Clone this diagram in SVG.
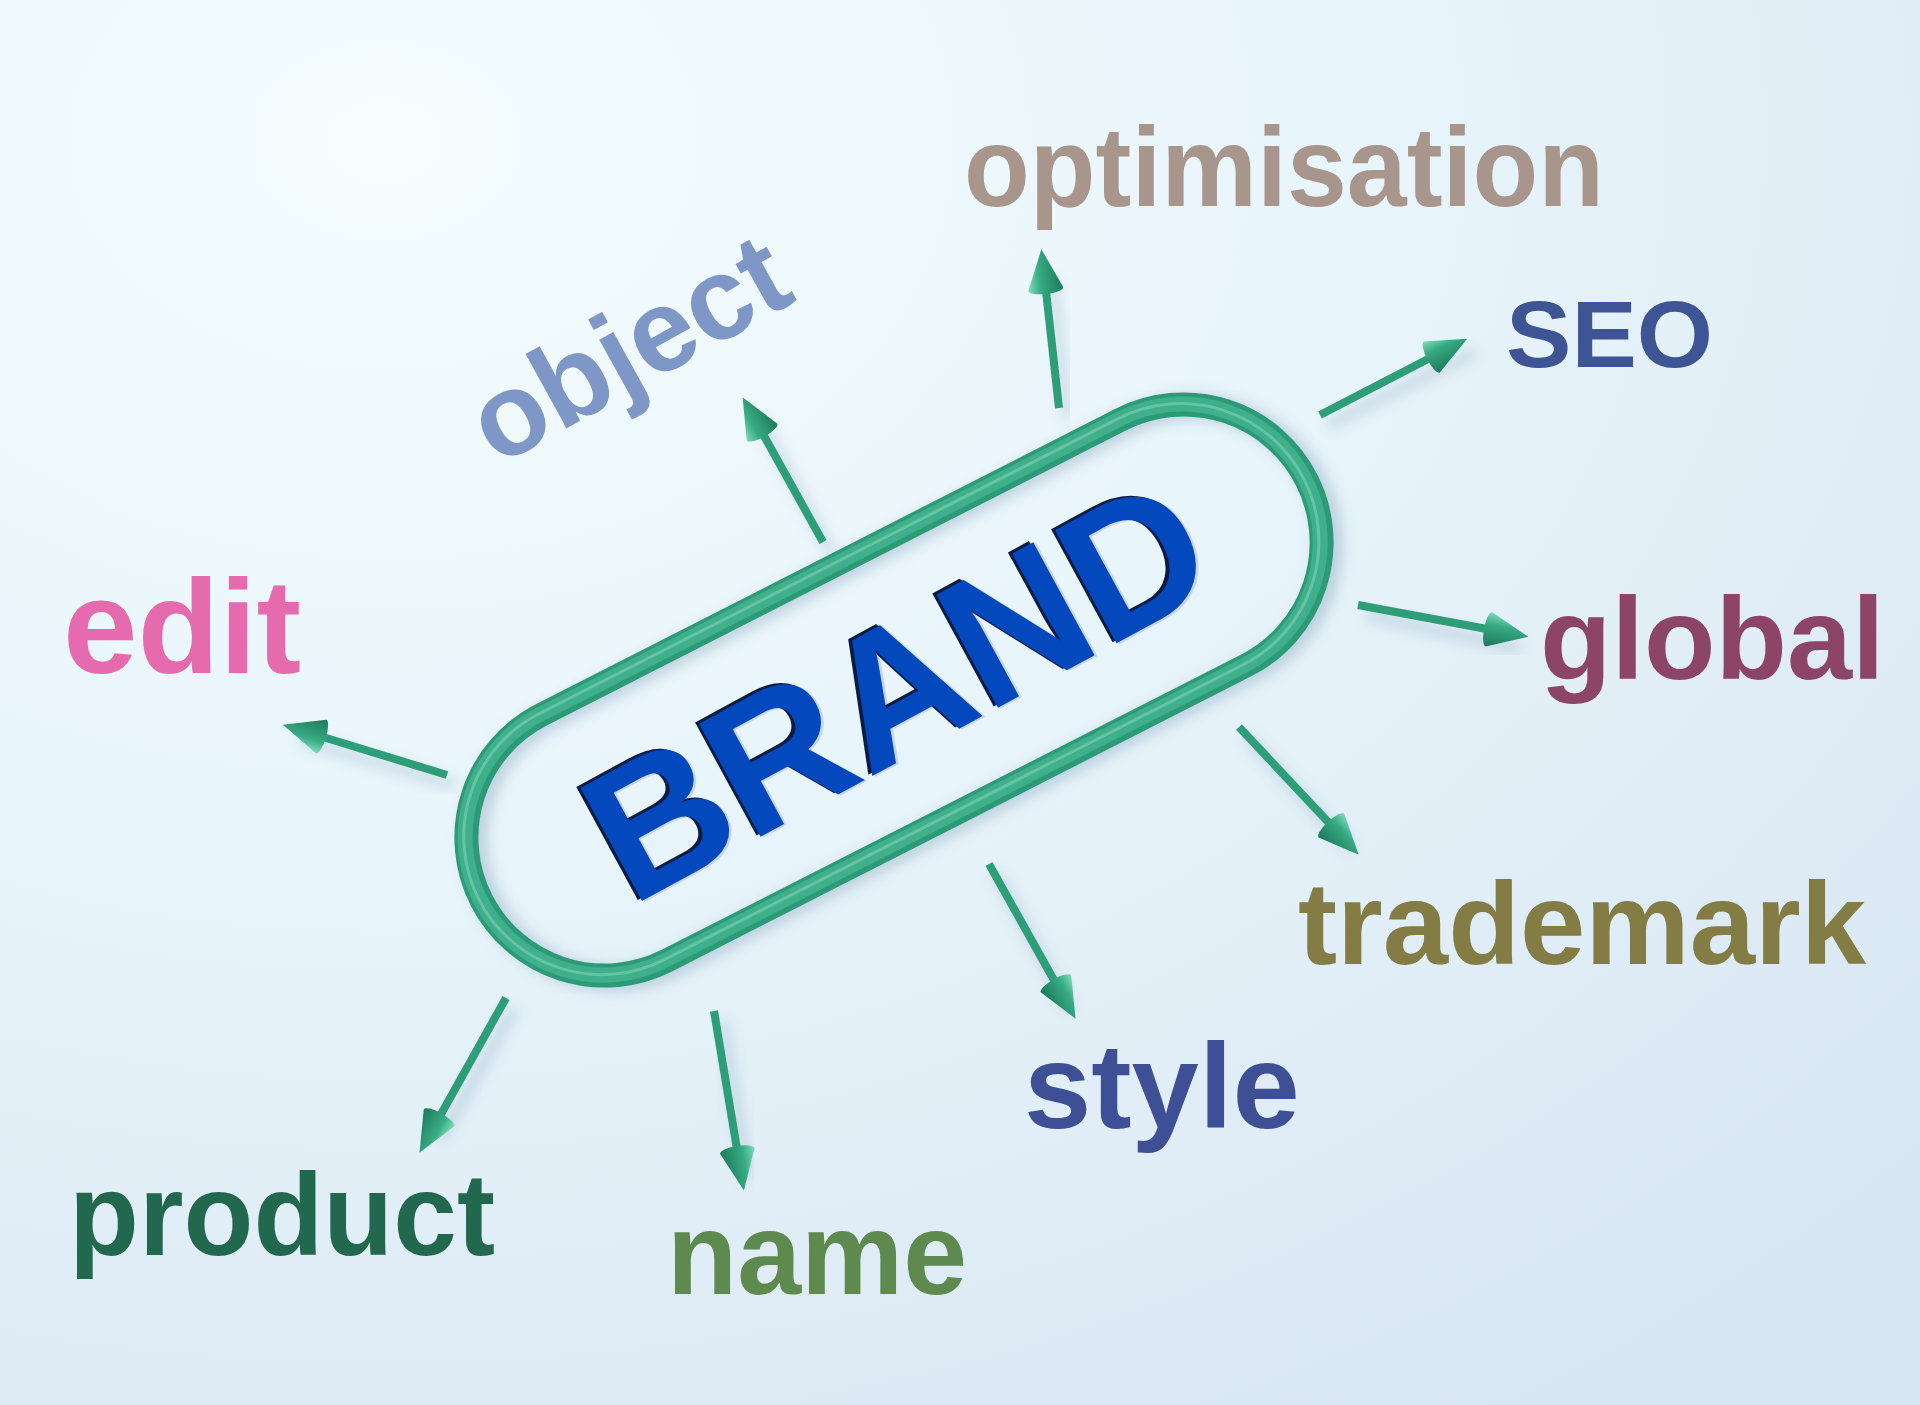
<svg xmlns="http://www.w3.org/2000/svg" width="1920" height="1405" viewBox="0 0 1920 1405">
  <defs>
    <radialGradient id="bg" cx="0.2" cy="0.1" r="1.1">
      <stop offset="0" stop-color="#f5fdfe"/>
      <stop offset="0.45" stop-color="#e8f5fb"/>
      <stop offset="1" stop-color="#d8e6f2"/>
    </radialGradient>
    <linearGradient id="cone" x1="0" y1="0" x2="0" y2="1">
      <stop offset="0" stop-color="#7fdcb9"/>
      <stop offset="0.35" stop-color="#38ab84"/>
      <stop offset="1" stop-color="#1d7a5a"/>
    </linearGradient>
    <filter id="soft" x="-20%" y="-20%" width="140%" height="140%">
      <feGaussianBlur stdDeviation="7"/>
    </filter>
    <marker id="head" markerUnits="userSpaceOnUse" markerWidth="52" markerHeight="40" viewBox="0 0 52 40" refX="6" refY="20" orient="auto">
      <path d="M48,20 L8,2.5 A5,17.5 0 0 0 8,37.5 Z" fill="url(#cone)"/>
    </marker>
    <style>
      .lbl { font-family: "Liberation Sans", Arial, sans-serif; font-weight: bold; }
      .shaft { stroke: #2e9e79; stroke-width: 8; fill: none; marker-end: url(#head); }
      .shadow { stroke: #5d7f99; stroke-width: 10; fill: none; opacity: 0.25; filter: url(#soft); }
      .brand { font-family: "Liberation Sans", Arial, sans-serif; font-weight: bold; font-size: 187px; }
      .tube { fill: none; }
    </style>
  </defs>

  <rect x="0" y="0" width="1920" height="1405" fill="url(#bg)"/>

  <!-- connectors -->
  <g id="connectors">
    <g id="arrow-shadows">
      <line class="shadow" x1="455" y1="785" x2="300" y2="740"/>
      <line class="shadow" x1="831" y1="552" x2="760" y2="420"/>
      <line class="shadow" x1="1067" y1="418" x2="1052" y2="280"/>
      <line class="shadow" x1="1328" y1="425" x2="1475" y2="352"/>
      <line class="shadow" x1="1366" y1="615" x2="1520" y2="648"/>
      <line class="shadow" x1="1247" y1="737" x2="1352" y2="850"/>
      <line class="shadow" x1="997" y1="874" x2="1070" y2="1010"/>
      <line class="shadow" x1="722" y1="1021" x2="748" y2="1180"/>
      <line class="shadow" x1="514" y1="1008" x2="440" y2="1140"/>
    </g>
    <line id="to-edit" class="shaft" x1="447" y1="775" x2="323" y2="737"/>
    <line id="to-object" class="shaft" x1="823" y1="542" x2="763" y2="434"/>
    <line id="to-optimisation" class="shaft" x1="1059" y1="408" x2="1046" y2="291"/>
    <line id="to-seo" class="shaft" x1="1320" y1="415" x2="1430" y2="358"/>
    <line id="to-global" class="shaft" x1="1358" y1="605" x2="1487" y2="629"/>
    <line id="to-trademark" class="shaft" x1="1239" y1="727" x2="1330" y2="824"/>
    <line id="to-style" class="shaft" x1="989" y1="864" x2="1055" y2="982"/>
    <line id="to-name" class="shaft" x1="714" y1="1011" x2="737" y2="1149"/>
    <line id="to-product" class="shaft" x1="506" y1="998" x2="440" y2="1116"/>
  </g>

  <!-- central node -->
  <g id="brand" transform="translate(894,690) rotate(-27)">
    <rect class="tube" x="-457" y="-132" width="926" height="276" rx="138" stroke="#6f8ea8" stroke-width="26" opacity="0.35" filter="url(#soft)"/>
    <rect class="tube" x="-463" y="-138" width="926" height="276" rx="138" stroke="#2c9a77" stroke-width="24"/>
    <rect class="tube" x="-464" y="-139" width="926" height="276" rx="138" stroke="#3fb08b" stroke-width="15"/>
    <rect class="tube" x="-465" y="-140" width="926" height="276" rx="138" stroke="#7dd4b4" stroke-width="3" opacity="0.6"/>
    <g transform="translate(-333,74) rotate(-1.5)">
      <text class="brand" x="2" y="2" fill="#c9d6ea">BRAND</text>
      <text class="brand" x="-3" y="-3" fill="#0b1b42">BRAND</text>
      <text class="brand" x="0" y="0" fill="#0448bd">BRAND</text>
    </g>
  </g>

  <g id="node-optimisation"><text class="lbl" x="964" y="206" font-size="114" fill="#a8958c" textLength="640" lengthAdjust="spacingAndGlyphs">optimisation</text></g>
  <g id="node-object"><text class="lbl" transform="translate(497,467) rotate(-29)" x="0" y="0" font-size="117" fill="#7f97c6">object</text></g>
  <g id="node-seo"><text class="lbl" x="1506" y="367" font-size="95" fill="#3f5494" textLength="207" lengthAdjust="spacingAndGlyphs">SEO</text></g>
  <g id="node-edit"><text class="lbl" x="63" y="673" font-size="134" fill="#e56bae">edit</text></g>
  <g id="node-global"><text class="lbl" x="1540" y="679" font-size="117" fill="#8c4468">global</text></g>
  <g id="node-trademark"><text class="lbl" x="1298" y="964" font-size="116" fill="#837d45" textLength="568" lengthAdjust="spacingAndGlyphs">trademark</text></g>
  <g id="node-style"><text class="lbl" x="1024" y="1128" font-size="121" fill="#3f4f96">style</text></g>
  <g id="node-name"><text class="lbl" x="667" y="1294" font-size="116" fill="#5e8a4f" textLength="300" lengthAdjust="spacingAndGlyphs">name</text></g>
  <g id="node-product"><text class="lbl" x="69" y="1255" font-size="116" fill="#22684f" textLength="426" lengthAdjust="spacingAndGlyphs">product</text></g>
</svg>
